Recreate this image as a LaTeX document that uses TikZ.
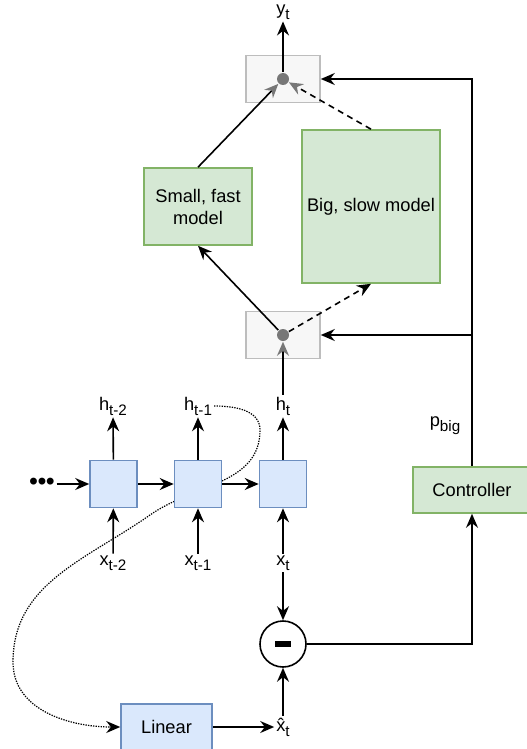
\documentclass[tikz,border=0pt]{standalone}
\usepackage{fontspec}
\setmainfont{Liberation Sans}
\usetikzlibrary{arrows.meta}
\definecolor{cellfill}{HTML}{DAE8FC}
\definecolor{celldraw}{HTML}{6C8EBF}
\definecolor{modelfill}{HTML}{D5E8D4}
\definecolor{modeldraw}{HTML}{82B366}
\definecolor{mixfill}{HTML}{F7F7F7}
\definecolor{mixdraw}{HTML}{BDBDBD}
\definecolor{dotgray}{HTML}{777777}
\newcommand{\sbs}[1]{\raisebox{-0.27em}{\fontsize{11.4pt}{12pt}\selectfont #1}}
\begin{document}
\begin{tikzpicture}[
        x=0.75pt, y=0.75pt,
        line width=1.2pt,
        font=\fontsize{13.7pt}{16.5pt}\selectfont,
        cell/.style={draw=celldraw, fill=cellfill, minimum width=35.25pt, minimum height=35.25pt, inner sep=0pt},
        model/.style={draw=modeldraw, fill=modelfill, align=center, inner sep=0pt},
        mixer/.style={draw=mixdraw, fill=mixfill, minimum width=55.5pt, minimum height=35.25pt, inner sep=0pt},
        mixdot/.style={circle, fill=dotgray, minimum size=9pt, inner sep=0pt},
        lbl/.style={inner sep=1pt},
        arr/.style={-{Stealth[length=10.5pt, width=9pt, inset=3.5pt]}},
        garr/.style={-{Stealth[length=10.5pt, width=9pt, inset=3.5pt, color=dotgray]}},
        bigpath/.style={dash pattern=on 4.5pt off 3.5pt}
    ]

        \useasboundingbox (0,0) rectangle (527,-749);
        \clip (0,0) rectangle (527,-749);

        % feedback path, drawn first so the cell hides it
        \coordinate (p1) at (260,-430);
        \coordinate (p2) at (150,-515);
        \coordinate (p3) at (13,-662);

        \node[lbl] (hm2) at (113,-406) {h\sbs{t-2}};
        \node[lbl] (hm1) at (198,-406) {h\sbs{t-1}};
        \node[lbl] (ht) at (283,-406) {h\sbs{t}};
        \node[lbl] (xm2) at (113,-563) {x\sbs{t-2}};
        \node[lbl] (xm1) at (198,-563) {x\sbs{t-1}};
        \node[lbl] (xt) at (283,-563) {x\sbs{t}};
        \node[lbl] (yt) at (283,-12) {y\sbs{t}};
        \node[lbl] (xhat) at (283,-727) {\^x\sbs{t}};
        \node[lbl] (pbig) at (445,-426) {p\sbs{big}};
        \node[lbl, font=\fontsize{18pt}{18pt}\selectfont] (dots) at (42,-484) {\textbf{•••}};

        \node[cell, minimum width=68.25pt, minimum height=34.5pt] (lin) at (166.5,-727) {Linear};

        \draw[arr, line width=0.9pt, dash pattern=on 1pt off 0.9pt] (hm1.east) to[out=0, in=90] (p1)
            to[out=-90, in=35] (p2) to[out=215, in=90] (p3) to[out=-90, in=180] (lin.west);

        \node[cell] (c1) at (113.5,-484) {};
        \node[cell] (c2) at (198,-484) {};
        \node[cell] (c3) at (283,-484) {};

        \node[mixer] (mixbot) at (283,-335) {};
        \node[mixer] (mixtop) at (283,-79) {};
        \node[mixdot] (dbot) at (283,-335) {};
        \node[mixdot] (dtop) at (283,-79) {};

        \node[model, minimum width=81pt, minimum height=57.75pt] (small) at (198,-206.5) {Small, fast\\model};
        \node[model, minimum width=103.5pt, minimum height=114.75pt] (big) at (371,-206.5) {Big, slow model};
        \node[model, minimum width=88.5pt, minimum height=34.5pt] (ctrl) at (472,-490) {Controller};

        \node[circle, draw, fill=white, minimum size=34.5pt, inner sep=0pt] (minus) at (283,-644) {};
        \fill (minus.center) ++(-8,-3) rectangle ++(16,6);

        % recurrent chain
        \draw[arr] (dots) -- (c1);
        \draw[arr] (c1) -- (c2);
        \draw[arr] (c2) -- (c3);
        \draw[arr] (c1) -- (hm2);
        \draw[arr] (c2) -- (hm1);
        \draw[arr] (c3) -- (ht);
        \draw[arr] (xm2) -- (c1);
        \draw[arr] (xm1) -- (c2);
        \draw[arr] (xt) -- (c3);

        % error to controller
        \draw[arr] (xt) -- (minus);
        \draw[arr] (xhat) -- (minus);
        \draw[arr] (lin) -- (xhat);
        \draw[arr] (minus.east) -| (ctrl.south);
        \draw[arr] (ctrl.north) |- (mixtop.east);
        \draw[arr] (ctrl.north |- mixbot.east) -- (mixbot.east);

        % routing through the models
        \draw[garr] (ht) -- (dbot);
        \draw[arr] (dbot) -- (small.south);
        \draw[arr, bigpath] (dbot) -- (big.south);
        \draw[garr] (small.north) -- (dtop);
        \draw[garr, bigpath] (big.north) -- (dtop);
        \draw[arr] (dtop) -- (yt);
    \end{tikzpicture}
\end{document}
